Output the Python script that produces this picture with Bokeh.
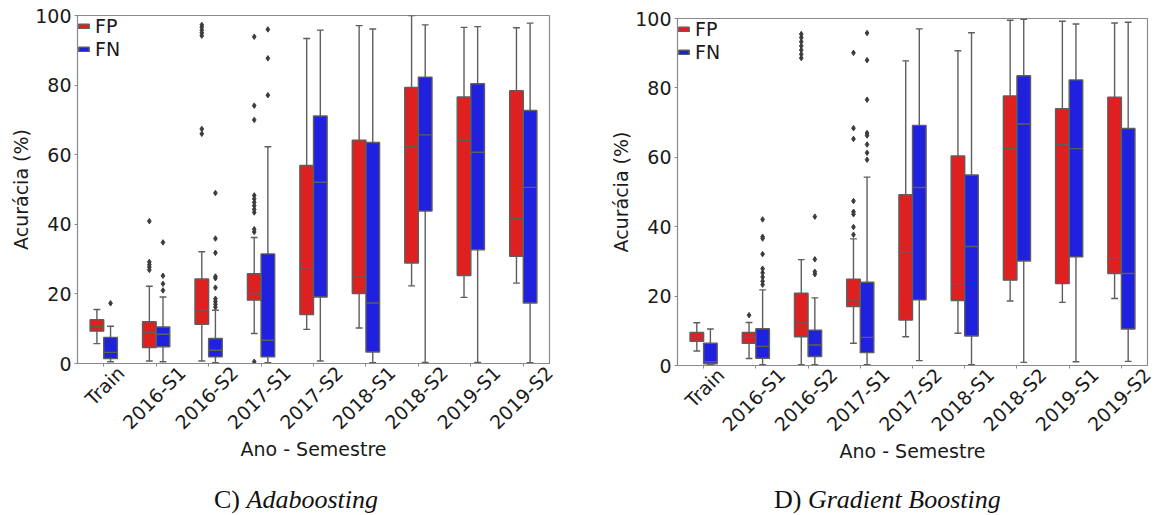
import math
from bokeh.plotting import figure
from bokeh.models import ColumnDataSource, Range1d, FixedTicker, LinearAxis, Div
from bokeh.layouts import row, column
from bokeh.embed import file_html
from bokeh.resources import INLINE

# ---------------- data ----------------
categories = ["Train", "2016-S1", "2016-S2", "2017-S1", "2017-S2",
              "2018-S1", "2018-S2", "2019-S1", "2019-S2"]
y_ticks = [0, 20, 40, 60, 80, 100]

# C) Adaboosting
ada_fp_lo = [5.7, 0.7, 0.7, 8.6, 9.8, 10.2, 22.3, 19.0, 23.1]
ada_fp_q1 = [9.3, 4.6, 11.3, 18.2, 14.1, 20.1, 28.9, 25.3, 30.8]
ada_fp_med = [10.6, 8.9, 15.4, 20.1, 27.5, 25.1, 62.3, 64.1, 41.6]
ada_fp_q3 = [12.6, 12.0, 24.3, 25.8, 56.9, 64.2, 79.3, 76.6, 78.4]
ada_fp_hi = [15.5, 22.2, 32.1, 36.2, 93.4, 97.1, 100.0, 96.6, 96.5]
ada_fn_lo = [0.5, 0.5, 0.2, 0.2, 0.7, 0.2, 0.3, 0.3, 0.2]
ada_fn_q1 = [1.4, 4.8, 1.9, 1.9, 19.1, 3.3, 43.8, 32.7, 17.4]
ada_fn_med = [3.2, 8.4, 3.8, 6.7, 52.1, 17.4, 65.7, 60.7, 50.6]
ada_fn_q3 = [7.5, 10.5, 7.2, 31.5, 71.1, 63.5, 82.3, 80.4, 72.7]
ada_fn_hi = [10.7, 19.1, 15.3, 62.3, 95.8, 96.1, 97.3, 96.8, 97.8]
ada_fp_out_cat = [1, 1, 1, 1, 1, 2, 2, 2, 2, 2, 2, 2,
                  3, 3, 3, 3, 3, 3, 3, 3, 3, 3, 3, 3]
ada_fp_out_val = [40.9, 29.2, 28.4, 27.7, 26.9, 97.3, 96.6, 95.8, 95.0, 94.2, 67.4, 66.0,
                  93.9, 74.1, 70.0, 48.3, 47.3, 46.3, 45.3, 44.3, 43.4, 38.6, 37.8, 0.5]
ada_fn_out_cat = [0, 1, 1, 1, 1, 2, 2, 2, 2, 2, 2, 2, 2, 2, 2, 3, 3, 3]
ada_fn_out_val = [17.3, 34.8, 25.2, 22.9, 21.0, 49.0, 35.9, 31.8, 25.0, 24.5, 21.8,
                  18.6, 17.8, 17.0, 16.2, 96.0, 87.7, 77.1]

# D) Gradient Boosting
gb_fp_lo = [4.2, 2.0, 0.2, 6.4, 8.3, 9.3, 18.6, 18.2, 19.3]
gb_fp_q1 = [7.0, 6.4, 8.3, 17.0, 13.1, 18.7, 24.6, 23.6, 26.5]
gb_fp_med = [8.1, 8.1, 12.2, 18.9, 32.8, 23.6, 62.5, 63.6, 31.1]
gb_fp_q3 = [9.5, 9.5, 20.8, 24.9, 49.2, 60.4, 77.7, 74.0, 77.3]
gb_fp_hi = [12.3, 12.4, 30.5, 36.5, 87.8, 90.7, 99.5, 99.2, 98.7]
gb_fn_lo = [0.2, 0.2, 0.2, 0.2, 1.4, 0.2, 0.9, 1.1, 1.2]
gb_fn_q1 = [0.5, 2.1, 2.6, 3.7, 18.9, 8.5, 30.1, 31.3, 10.5]
gb_fn_med = [1.1, 5.5, 5.9, 8.1, 51.3, 34.3, 69.6, 62.5, 26.5]
gb_fn_q3 = [6.4, 10.6, 10.2, 24.0, 69.2, 54.9, 83.5, 82.3, 68.3]
gb_fn_hi = [10.5, 21.8, 19.5, 54.3, 97.0, 95.9, 99.8, 98.4, 98.9]
gb_fp_out_cat = [1, 2, 2, 2, 2, 2, 2, 2, 3, 3, 3, 3, 3, 3, 3, 3]
gb_fp_out_val = [14.5, 95.5, 94.5, 93.3, 92.1, 90.9, 89.7, 88.6,
                 90.1, 68.4, 65.3, 47.4, 44.3, 43.6, 39.9, 37.7]
gb_fn_out_cat = [1, 1, 1, 1, 1, 1, 1, 1, 1, 2, 2, 2, 2, 3, 3, 3, 3, 3, 3, 3, 3]
gb_fn_out_val = [42.1, 37.1, 36.6, 32.1, 27.9, 26.7, 25.5, 24.3, 23.3,
                 42.9, 30.6, 27.0, 26.3,
                 95.8, 88.0, 76.6, 67.0, 66.3, 63.7, 61.3, 59.3]

# ---------------- style ----------------
FP_COLOR = "#df2020"
FN_COLOR = "#2020df"
EDGE = "#5e5e5e"
FRAME = "#8a8a8a"
TEXT = "#1a1a1a"
FONT = "DejaVu Sans"
FS = "19px"
FSN = 19
BOX_W = 0.26
OFF = 0.13

CHAR_W = {"0": .636, "1": .636, "2": .636, "6": .636, "7": .636, "8": .636,
          "9": .636, "-": .361, "S": .635, "T": .611, "r": .411, "a": .613,
          "i": .278, "n": .634}


def text_len(s):
    return sum(CHAR_W.get(c, 0.6) for c in s) * FSN


def make_panel(width, height, bl, br, bt, bb, fp, fn, fp_out, fn_out):
    n = len(categories)
    p = figure(width=width, height=height,
               x_range=Range1d(-0.5, n - 0.5),
               y_range=Range1d(0, 100),
               output_backend="svg", toolbar_location=None,
               min_border_left=bl, min_border_right=br,
               min_border_top=bt, min_border_bottom=bb)
    p.xgrid.visible = False
    p.ygrid.visible = False
    p.outline_line_color = FRAME
    p.outline_line_width = 1.2
    p.background_fill_color = "white"
    p.border_fill_color = "white"

    idx = list(range(n))
    for stats, off, color, name in ((fp, -OFF, FP_COLOR, "FP"),
                                     (fn, OFF, FN_COLOR, "FN")):
        lo, q1, med, q3, hi = stats
        xs = [i + off for i in idx]
        src = ColumnDataSource(dict(
            x=xs,
            xl=[x - BOX_W / 4 for x in xs], xr=[x + BOX_W / 4 for x in xs],
            bl=[x - BOX_W / 2 for x in xs], br=[x + BOX_W / 2 for x in xs],
            lo=lo, q1=q1, med=med, q3=q3, hi=hi))
        p.segment(x0="x", y0="lo", x1="x", y1="q1", source=src,
                  line_color=EDGE, line_width=1.4)
        p.segment(x0="x", y0="q3", x1="x", y1="hi", source=src,
                  line_color=EDGE, line_width=1.4)
        p.segment(x0="xl", y0="lo", x1="xr", y1="lo", source=src,
                  line_color=EDGE, line_width=1.4)
        p.segment(x0="xl", y0="hi", x1="xr", y1="hi", source=src,
                  line_color=EDGE, line_width=1.4)
        p.vbar(x="x", width=BOX_W, bottom="q1", top="q3", source=src,
               fill_color=color, line_color=EDGE, line_width=1.4,
               legend_label=name)
        p.segment(x0="bl", y0="med", x1="br", y1="med", source=src,
                  line_color=EDGE, line_width=1.4)

    for (cats, vals), off in ((fp_out, -OFF), (fn_out, OFF)):
        p.scatter(x=[c + off for c in cats], y=vals, marker="diamond",
                  size=5.5, fill_color="#3c3c3c", line_color="#3c3c3c")

    # y axis
    ya = p.yaxis[0]
    ya.ticker = FixedTicker(ticks=y_ticks)
    ya.axis_label = "Acurácia (%)"
    ya.axis_label_text_font = FONT
    ya.axis_label_text_font_size = FS
    ya.axis_label_text_font_style = "normal"
    ya.axis_label_text_color = TEXT
    ya.axis_label_standoff = 0
    ya.major_label_text_font = FONT
    ya.major_label_text_font_size = FS
    ya.major_label_text_color = TEXT
    ya.major_label_standoff = 3
    ya.major_tick_out = 3
    ya.major_tick_in = 0
    ya.minor_tick_out = 0
    ya.minor_tick_in = 0
    ya.axis_line_color = FRAME
    ya.major_tick_line_color = FRAME

    # x axis: tick marks only
    xa = p.xaxis[0]
    xa.ticker = FixedTicker(ticks=idx)
    xa.major_label_overrides = {i: "" for i in idx}
    xa.major_label_text_font_size = "0px"
    xa.major_label_standoff = 0
    xa.major_tick_out = 3
    xa.major_tick_in = 0
    xa.minor_tick_out = 0
    xa.minor_tick_in = 0
    xa.axis_line_color = FRAME
    xa.major_tick_line_color = FRAME

    # second axis (on a shifted copy of the x range) for the rotated category
    # labels: each label's end is moved right so its rotated box is centred
    # on its category (capped so the last label stays inside the range)
    px_per_unit = (width - bl - br) / n
    s_cap = 0.495
    shifts = [min(0.3536 * text_len(c) / px_per_unit, s_cap) for c in categories]
    p.extra_x_ranges = {"lab": Range1d(-0.5 - s_cap, n - 0.5 - s_cap)}
    lab_ticks = [round(i + s - s_cap, 4) for i, s in zip(idx, shifts)]
    la = LinearAxis(x_range_name="lab",
                    ticker=FixedTicker(ticks=lab_ticks),
                    major_label_overrides={t: c for t, c in zip(lab_ticks, categories)},
                    major_label_orientation=math.pi / 4,
                    major_label_text_font=FONT, major_label_text_font_size=FS,
                    major_label_text_color=TEXT, major_label_standoff=3,
                    major_tick_out=0, major_tick_in=0,
                    minor_tick_out=0, minor_tick_in=0,
                    axis_line_color=None, major_tick_line_color=None,
                    axis_label="Ano - Semestre", axis_label_text_font=FONT,
                    axis_label_text_font_size=FS,
                    axis_label_text_font_style="normal",
                    axis_label_text_color=TEXT, axis_label_standoff=-6)
    p.add_layout(la, "below")

    # legend
    lg = p.legend[0]
    lg.location = "top_left"
    lg.margin = 0
    lg.padding = 7
    lg.spacing = 1
    lg.glyph_width = 13
    lg.glyph_height = 6
    lg.label_standoff = 5
    lg.label_text_font = FONT
    lg.label_text_font_size = FS
    lg.label_text_color = TEXT
    lg.border_line_color = None
    lg.background_fill_alpha = 0
    return p


def caption(width, pad_left, label, title):
    return Div(text=f"{label} <i>{title}</i>", width=width, height=45,
               margin=(0, 0, 0, 0),
               styles={"font-family": "'Liberation Serif', 'Times New Roman', serif",
                       "font-size": "26px", "line-height": "26px",
                       "color": "#111111", "padding-top": "17px",
                       "padding-left": f"{pad_left}px",
                       "white-space": "nowrap"})


p1 = make_panel(578, 470, 77, 29, 15, 107,
                (ada_fp_lo, ada_fp_q1, ada_fp_med, ada_fp_q3, ada_fp_hi),
                (ada_fn_lo, ada_fn_q1, ada_fn_med, ada_fn_q3, ada_fn_hi),
                (ada_fp_out_cat, ada_fp_out_val), (ada_fn_out_cat, ada_fn_out_val))
p2 = make_panel(579, 470, 99, 10, 18, 105,
                (gb_fp_lo, gb_fp_q1, gb_fp_med, gb_fp_q3, gb_fp_hi),
                (gb_fn_lo, gb_fn_q1, gb_fn_med, gb_fn_q3, gb_fn_hi),
                (gb_fp_out_cat, gb_fp_out_val), (gb_fn_out_cat, gb_fn_out_val))

layout = row(column(p1, caption(578, 214, "C)", "Adaboosting")),
             column(p2, caption(579, 196, "D)", "Gradient Boosting")))
open("out.html", "w").write(file_html(layout, INLINE))
